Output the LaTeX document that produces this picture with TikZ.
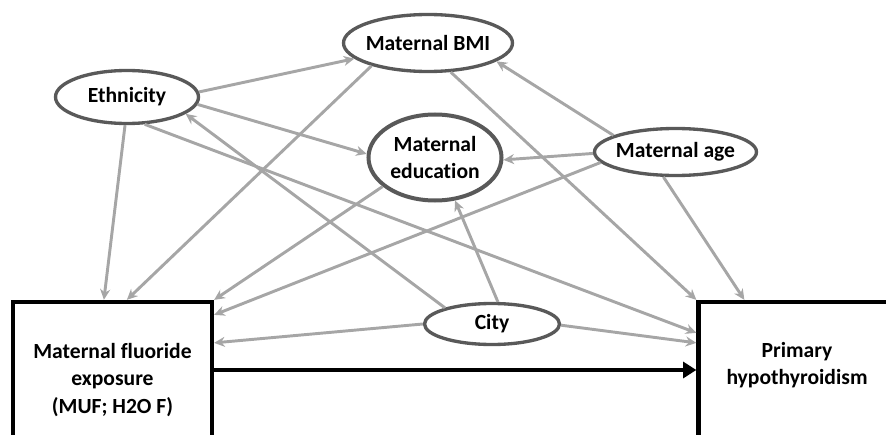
\documentclass[tikz,border=0pt]{standalone}
\usepackage{fontspec}
\setmainfont{Carlito}[Ligatures=NoCommon]
\usetikzlibrary{arrows.meta,shapes.geometric}
\definecolor{edgegray}{HTML}{A6A6A6}
\definecolor{ringgray}{HTML}{595959}
\begin{document}
\begin{tikzpicture}[x=0.75pt,y=-0.75pt,
  every node/.style={font=\fontsize{16.2}{20.5}\selectfont\bfseries},
  oval/.style={ellipse, draw=ringgray, line width=2.5pt, inner sep=0pt, fill=white},
  box/.style={rectangle, draw=black, line width=3.2pt, inner sep=0pt,
    minimum width=149.25pt, minimum height=117pt, align=center},
  link/.style={draw=edgegray, line width=2.2pt, -{Stealth[length=8pt,width=7.5pt]}},
  main/.style={draw=black, line width=3.2pt, -{Triangle[length=10pt,width=12pt]}}]
\clip (0,0) rectangle (886,435);

% covariates
\node[oval, minimum width=107.25pt, minimum height=39.75pt] (eth) at (127,97) {\makebox[0pt]{Ethnicity}};
\node[oval, minimum width=126.75pt, minimum height=42.75pt] (bmi) at (428,43) {\makebox[0pt]{Maternal BMI}};
\node[oval, line width=3pt, minimum width=99.75pt, minimum height=64.5pt, align=center] (edu) at (435,157.5) {Maternal\\education};
\node[oval, minimum width=121.5pt, minimum height=35.25pt] (age) at (675.5,152) {\makebox[0pt]{Maternal age}};
\node[oval, minimum width=101.25pt, minimum height=30.75pt] (city) at (492,324) {\makebox[0pt]{City}};

% exposure and outcome
\node[box] (exp) at (112.5,380) {Maternal fluoride\\exposure\\(MUF; H2O F)};
\node[box] (out) at (798,380) {};
\node[align=center] (outtxt) at (797,365) {Primary\\hypothyroidism};

% adjustment paths
\draw[link] (eth.4) -- (bmi.192);
\draw[link] (eth.-6) -- (edu.177);
\draw[link] (eth.-94) -- ([shift={(93,0)}]exp.north west);
\draw[link] (eth.-57) -- ([shift={(0,33)}]out.north west);
\draw[link] (city.161) -- (eth.-16);
\draw[link] (bmi.202) -- ([shift={(116,0)}]exp.north west);
\draw[link] (bmi.-52) -- (out.north west);
\draw[link] (edu.209) -- (exp.north east);
\draw[link] (age.165) -- (bmi.-15);
\draw[link] (age.181) -- (edu.-2);
\draw[link] (age.188) -- ([shift={(0,15)}]exp.north east);
\draw[link] (age.244) -- ([shift={(48,0)}]out.north west);
\draw[link] (city.75) -- (edu.-65);
\draw[link] (city.180) -- ([shift={(0,43)}]exp.north east);
\draw[link] (city.-1) -- ([shift={(0,43)}]out.north west);

% main effect
\draw[main] ([shift={(0,-10)}]exp.east) -- ([shift={(0,-10)}]out.west);
\end{tikzpicture}
\end{document}
